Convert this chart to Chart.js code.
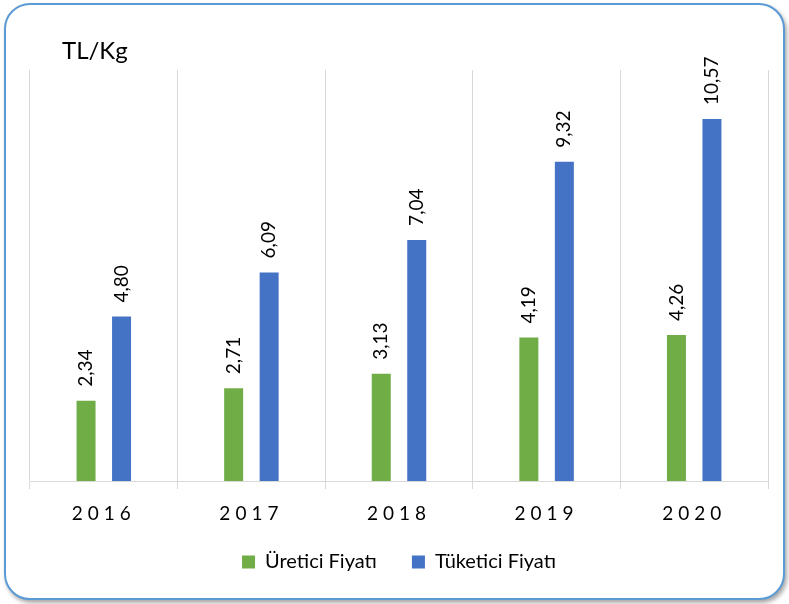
<!DOCTYPE html>
<html>
<head>
<meta charset="utf-8">
<script src="https://cdn.jsdelivr.net/npm/chart.js@4.4.1/dist/chart.umd.min.js"></script>
<style>
  html, body { margin: 0; padding: 0; background: #ffffff; }
  body { width: 789px; height: 604px; position: relative; overflow: hidden; }
  #frame {
    position: absolute; left: 4px; top: 3px; width: 777px; height: 593px;
    border: 2px solid #5b9bd5; border-radius: 26px; background: #fff;
    box-shadow: 2px 3px 4px rgba(0,0,0,0.35);
  }
  #wrap { position: absolute; left: 0; top: 0; width: 789px; height: 604px; }
</style>
</head>
<body>
<div id="frame"></div>
<div id="wrap"><canvas id="c" width="789" height="604"></canvas></div>
<script>
const categories = ['2016', '2017', '2018', '2019', '2020'];
const producerPrice = [2.34, 2.71, 3.13, 4.19, 4.26];
const consumerPrice = [4.80, 6.09, 7.04, 9.32, 10.57];
const seriesNames = ['Üretici Fiyatı', 'Tüketici Fiyatı'];
const unitLabel = 'TL/Kg';

const FONT = 'Lato, "Open Sans", sans-serif';

const labelPlugin = {
  id: 'customText',
  afterDatasetsDraw(chart) {
    const ctx = chart.ctx;
    ctx.save();
    ctx.fillStyle = '#000';
    ctx.font = '19px ' + FONT;
    ctx.textAlign = 'left';
    ctx.textBaseline = 'middle';
    chart.data.datasets.forEach((ds, di) => {
      const meta = chart.getDatasetMeta(di);
      meta.data.forEach((el, i) => {
        const txt = ds.data[i].toFixed(2).replace('.', ',');
        ctx.save();
        ctx.translate(el.x, el.y - 14);
        ctx.rotate(-Math.PI / 2);
        ctx.fillText(txt, 0, 0);
        ctx.restore();
      });
    });
    ctx.restore();
  },
  afterDraw(chart) {
    const ctx = chart.ctx;
    const xs = chart.scales.x;
    ctx.save();
    ctx.fillStyle = '#000';
    ctx.font = '19px ' + FONT;
    ctx.textAlign = 'center';
    ctx.textBaseline = 'middle';
    try { ctx.letterSpacing = '5px'; } catch (e) {}
    categories.forEach((c, i) => {
      ctx.fillText(c, xs.getPixelForTick(i), xs.top + 33);
    });
    try { ctx.letterSpacing = '0px'; } catch (e) {}
    ctx.font = '24px ' + FONT;
    ctx.textAlign = 'left';
    ctx.textBaseline = 'alphabetic';
    ctx.fillText(unitLabel, chart.chartArea.left + 32, chart.chartArea.top - 11);
    ctx.restore();
  }
};

new Chart(document.getElementById('c'), {
  type: 'bar',
  data: {
    labels: categories,
    datasets: [
      { label: seriesNames[0], data: producerPrice, backgroundColor: '#70ad47' },
      { label: seriesNames[1], data: consumerPrice, backgroundColor: '#4472c4' }
    ]
  },
  options: {
    responsive: false,
    animation: false,
    devicePixelRatio: 1,
    layout: { padding: { top: 70, left: 30, right: 21, bottom: 22 } },
    datasets: { bar: { categoryPercentage: 0.481, barPercentage: 0.535 } },
    scales: {
      x: {
        grid: { offset: true, color: '#d9d9d9', lineWidth: 1, drawTicks: true, tickLength: 8, tickColor: '#d9d9d9' },
        border: { display: true, color: '#d9d9d9', width: 1 },
        ticks: { display: false },
        afterFit(scale) { scale.height = 36; }
      },
      y: { display: false, min: 0, max: 12 }
    },
    plugins: {
      legend: {
        position: 'bottom',
        labels: {
          font: { size: 20, family: FONT },
          color: '#000',
          boxWidth: 13,
          boxHeight: 13,
          padding: 35,
          useBorderRadius: false
        }
      },
      tooltip: { enabled: false },
      title: { display: false }
    }
  },
  plugins: [labelPlugin]
});
</script>
</body>
</html>
